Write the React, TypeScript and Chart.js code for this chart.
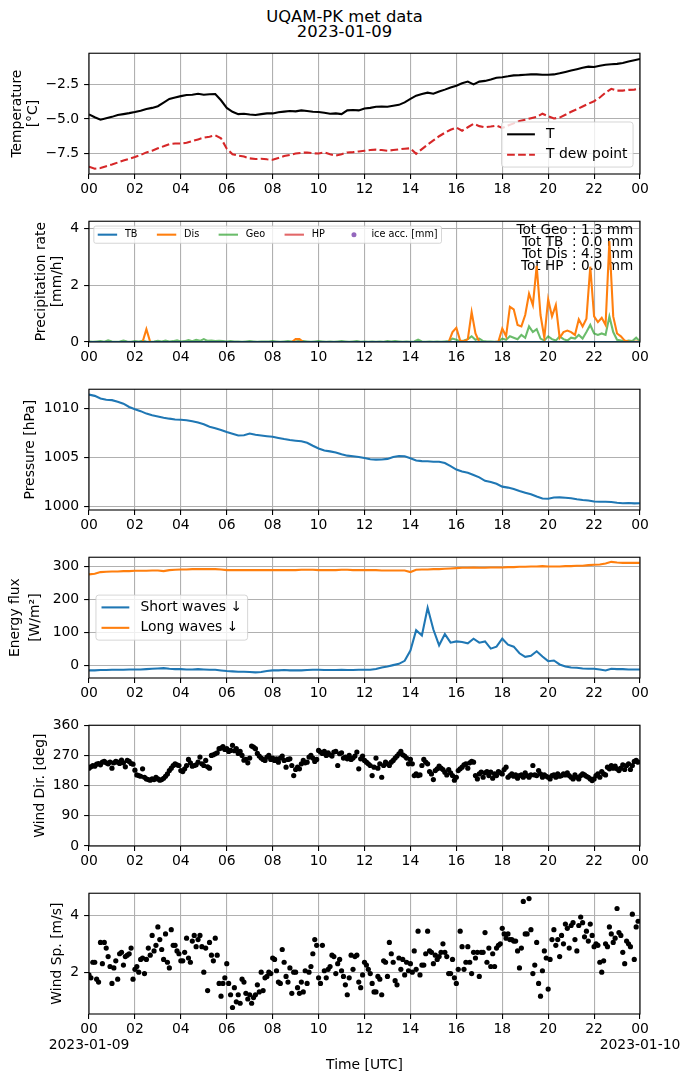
import React, { useEffect, useRef } from "react";
import { Chart, registerables } from "chart.js";

Chart.register(...registerables);

const FONT = "'DejaVu Sans', 'Liberation Sans', sans-serif";
const FS = 13.9;

// ---------------- text ----------------
const FIG_TITLE = "UQAM-PK met data";
const FIG_DATE = "2023-01-09";
const DATE_START = "2023-01-09";
const DATE_END = "2023-01-10";
const X_TITLE = "Time [UTC]";
const PRECIP_TOTALS = ["Tot Geo : 1.3 mm", "Tot TB  : 0.0 mm", "Tot Dis : 4.3 mm", "Tot HP  : 0.0 mm"];

// ---------------- time axes (hours since 00 UTC) ----------------
const HOURS_15MIN = Array.from({ length: 97 }, (_, i) => i / 4);
const HOURS_10MIN = Array.from({ length: 145 }, (_, i) => i / 6);
const HOURS_5MIN = Array.from({ length: 288 }, (_, i) => i / 12);

// ---------------- temperature [°C], 15 min ----------------
const TEMP = [
  -4.67, -4.88, -5.05, -4.95, -4.85, -4.72, -4.65, -4.58, -4.5, -4.4, -4.28, -4.2,
  -4.08, -3.82, -3.55, -3.45, -3.35, -3.27, -3.25, -3.18, -3.25, -3.22, -3.2, -3.65,
  -4.2, -4.48, -4.65, -4.62, -4.68, -4.72, -4.65, -4.6, -4.6, -4.52, -4.47, -4.42,
  -4.45, -4.38, -4.42, -4.48, -4.5, -4.55, -4.62, -4.6, -4.65, -4.38, -4.35, -4.38,
  -4.25, -4.2, -4.12, -4.1, -4.12, -4.05, -3.98, -3.8, -3.55, -3.32, -3.2, -3.1,
  -3.18, -3.02, -2.88, -2.72, -2.6, -2.42, -2.3, -2.5, -2.3, -2.25, -2.15, -2.02,
  -1.98, -1.92, -1.85, -1.83, -1.8, -1.78, -1.78, -1.8, -1.8, -1.78, -1.7, -1.6,
  -1.5, -1.4, -1.3, -1.22, -1.25, -1.15, -1.08, -1.05, -1.02, -0.95, -0.85, -0.75,
  -0.66,
];
const DEW_POINT = [
  -8.45, -8.6, -8.55, -8.42, -8.3, -8.15, -8.0, -7.88, -7.75, -7.6, -7.42, -7.3,
  -7.12, -6.98, -6.82, -6.78, -6.78, -6.72, -6.6, -6.48, -6.35, -6.28, -6.18, -6.4,
  -7.15, -7.55, -7.65, -7.72, -7.85, -7.9, -7.88, -7.92, -7.95, -7.82, -7.68, -7.6,
  -7.5, -7.45, -7.42, -7.48, -7.5, -7.42, -7.55, -7.65, -7.55, -7.42, -7.4, -7.35,
  -7.3, -7.25, -7.22, -7.25, -7.3, -7.25, -7.2, -7.15, -7.12, -7.52, -7.18, -6.85,
  -6.55, -6.25, -6.0, -5.78, -5.62, -5.85, -5.6, -5.35, -5.52, -5.6, -5.55, -5.48,
  -5.65, -5.48, -5.32, -5.15, -5.05, -4.95, -4.85, -4.62, -4.8, -4.97, -4.9, -4.7,
  -4.48, -4.3, -4.1, -3.9, -3.72, -3.45, -3.1, -2.82, -2.95, -2.95, -2.9, -2.88,
  -2.8,
];

// ---------------- precipitation rate [mm/h], 10 min ----------------
const PR_TB = [
  0, 0, 0, 0, 0, 0, 0, 0, 0, 0, 0, 0, 0, 0, 0, 0, 0, 0, 0, 0, 0, 0, 0, 0,
  0, 0, 0, 0, 0, 0, 0, 0, 0, 0, 0, 0, 0, 0, 0, 0, 0, 0, 0, 0, 0, 0, 0, 0,
  0, 0, 0, 0, 0, 0, 0, 0, 0, 0, 0, 0, 0, 0, 0, 0, 0, 0, 0, 0, 0, 0, 0, 0,
  0, 0, 0, 0, 0, 0, 0, 0, 0, 0, 0, 0, 0, 0, 0, 0, 0, 0, 0, 0, 0, 0, 0, 0,
  0, 0, 0, 0, 0, 0, 0, 0, 0, 0, 0, 0, 0, 0, 0, 0, 0, 0, 0, 0, 0, 0, 0, 0,
  0, 0, 0, 0, 0, 0, 0, 0, 0, 0, 0, 0, 0, 0, 0, 0, 0, 0, 0, 0, 0, 0, 0, 0,
  0,
];
const PR_DIS = [
  0, 0, 0, 0, 0, 0, 0, 0, 0, 0, 0, 0, 0, 0, 0, 0.45, 0, 0, 0, 0, 0, 0, 0, 0,
  0, 0, 0, 0, 0, 0, 0, 0, 0, 0, 0, 0, 0, 0, 0, 0, 0, 0, 0, 0, 0, 0, 0, 0,
  0, 0, 0, 0, 0, 0, 0.1, 0.1, 0, 0, 0, 0, 0, 0, 0, 0, 0, 0, 0, 0, 0, 0, 0, 0,
  0, 0, 0, 0, 0, 0, 0, 0, 0, 0, 0, 0, 0, 0, 0, 0, 0, 0, 0, 0, 0, 0, 0, 0.35,
  0.5, 0.05, 0.02, 0.1, 1.05, 0.3, 0, 0, 0, 0, 0, 0.02, 0.47, 0.2, 1.24, 1.15, 0.6, 0.55, 0.95, 1.7, 1.3, 2.68, 0.95, 0.15,
  1.5, 0.9, 1.3, 0.15, 0.35, 0.4, 0.35, 0.25, 0.8, 0.55, 0.82, 2.65, 0.9, 0.7, 0.85, 0.6, 3.55, 0.9, 0.3, 0.2, 0.05, 0.02, 0, 0.02,
  0,
];
const PR_GEO = [
  0.02, 0.01, 0.02, 0.03, 0.01, 0.06, 0.02, 0.01, 0.02, 0.05, 0.02, 0.01, 0.03, 0.02, 0.04, 0.02, 0.01, 0.02, 0.04, 0.02, 0.05, 0.02, 0.03, 0.06,
  0.02, 0.03, 0.07, 0.03, 0.08, 0.04, 0.1, 0.04, 0.05, 0.03, 0.04, 0.03, 0.02, 0.03, 0.02, 0.02, 0.01, 0.02, 0.03, 0.02, 0.01, 0.02, 0.02, 0.02,
  0.03, 0.02, 0.01, 0.02, 0.03, 0.02, 0.02, 0.04, 0.03, 0.02, 0.01, 0.02, 0.03, 0.02, 0.01, 0.02, 0.01, 0.02, 0.03, 0.02, 0.01, 0.02, 0.03, 0.01,
  0.02, 0.01, 0.02, 0.01, 0.02, 0.01, 0.03, 0.02, 0.03, 0.02, 0.01, 0.02, 0.01, 0.02, 0.08, 0.02, 0.01, 0.02, 0.01, 0.02, 0.01, 0.02, 0.03, 0.12,
  0.08, 0.02, 0.05, 0.1, 0.2, 0.08, 0.12, 0.03, 0.02, 0.02, 0.01, 0.02, 0.12, 0.08, 0.2, 0.15, 0.1, 0.25, 0.15, 0.55, 0.35, 0.45, 0.12, 0.05,
  0.2, 0.1, 0.05, 0.2, 0.1, 0.05, 0.15, 0.12, 0.25, 0.12, 0.35, 0.6, 0.3, 0.25, 0.3, 0.25, 0.9, 0.35, 0.08, 0.05, 0.02, 0.05, 0.03, 0.15,
  0.02,
];
const PR_HP = [
  0, 0, 0, 0, 0, 0, 0, 0, 0, 0, 0, 0, 0, 0, 0, 0, 0, 0, 0, 0, 0, 0, 0, 0,
  0, 0, 0, 0, 0, 0, 0, 0, 0, 0, 0, 0, 0, 0, 0, 0, 0, 0, 0, 0, 0, 0, 0, 0,
  0, 0, 0, 0, 0, 0, 0, 0, 0, 0, 0, 0, 0, 0, 0, 0, 0, 0, 0, 0, 0, 0, 0, 0,
  0, 0, 0, 0, 0, 0, 0, 0, 0, 0, 0, 0, 0, 0, 0, 0, 0, 0, 0, 0, 0, 0, 0, 0,
  0, 0, 0, 0, 0, 0, 0, 0, 0, 0, 0, 0, 0, 0, 0, 0, 0, 0, 0, 0, 0, 0, 0, 0,
  0, 0, 0, 0, 0, 0, 0, 0, 0, 0, 0, 0, 0, 0, 0, 0, 0, 0, 0, 0, 0, 0, 0, 0,
  0,
];
const ICE_ACC: number[] = [];

// ---------------- pressure [hPa], 15 min ----------------
const PRESSURE = [
  1011.45, 1011.32, 1011.05, 1010.92, 1010.88, 1010.72, 1010.52, 1010.18, 1009.95, 1009.75, 1009.5, 1009.32,
  1009.2, 1009.08, 1008.98, 1008.9, 1008.86, 1008.82, 1008.72, 1008.58, 1008.4, 1008.15, 1008.0, 1007.82,
  1007.6, 1007.42, 1007.25, 1007.28, 1007.45, 1007.32, 1007.25, 1007.18, 1007.12, 1007.0, 1006.88, 1006.78,
  1006.72, 1006.65, 1006.5, 1006.2, 1005.92, 1005.7, 1005.62, 1005.5, 1005.32, 1005.18, 1005.12, 1005.05,
  1004.93, 1004.82, 1004.77, 1004.78, 1004.85, 1005.05, 1005.15, 1005.12, 1004.92, 1004.68, 1004.62, 1004.6,
  1004.55, 1004.56, 1004.42, 1004.1, 1003.75, 1003.55, 1003.42, 1003.2, 1002.95, 1002.6, 1002.48, 1002.3,
  1002.0, 1001.9, 1001.75, 1001.55, 1001.38, 1001.22, 1000.98, 1000.78, 1000.76, 1000.88, 1000.9, 1000.85,
  1000.8, 1000.7, 1000.62, 1000.58, 1000.48, 1000.45, 1000.45, 1000.42, 1000.35, 1000.3, 1000.32, 1000.28,
  1000.3,
];

// ---------------- energy flux [W/m2], 15 min ----------------
const SHORT_WAVES = [
  -14, -14, -13, -13, -12, -12, -12, -11, -11, -11, -10, -9,
  -8, -7, -9, -10, -10, -11, -11, -10, -11, -12, -12, -14,
  -16, -17, -18, -18, -19, -20, -19, -16, -14, -14, -13, -14,
  -14, -14, -13, -12, -12, -13, -13, -13, -12, -13, -13, -12,
  -12, -12, -10, -5, -2, 2, 6, 15, 46, 108, 92, 176,
  110, 62, 96, 70, 74, 72, 68, 82, 70, 74, 52, 58,
  82, 64, 58, 38, 27, 30, 44, 28, 14, 16, 4, -2,
  -5, -6, -8, -9, -9, -11, -14, -9, -10, -10, -11, -11,
  -11,
];
const LONG_WAVES = [
  277, 279, 284, 285, 286, 286, 287, 287, 288, 288, 288, 289,
  289, 287, 290, 291, 292, 292, 293, 293, 293, 293, 293, 292,
  290, 290, 290, 290, 290, 290, 290, 290, 290, 290, 290, 290,
  290, 291, 291, 291, 290, 290, 290, 290, 291, 291, 290, 290,
  290, 290, 290, 289, 289, 289, 289, 289, 284, 291, 292, 292,
  293, 293, 294, 295, 296, 297, 297, 298, 297, 297, 298, 298,
  298, 299, 299, 300, 300, 301, 301, 302, 301, 301, 301, 302,
  302, 303, 303, 305, 306, 307, 310, 315, 313, 312, 312, 312,
  312,
];

// ---------------- wind direction [deg], 5 min ----------------
const WIND_DIR = [
  232, 236, 240, 238, 244, 246, 242, 250, 252, 248, 245, 250,
  232, 248, 252, 250, 246, 256, 248, 236, 255, 252, 246, 244,
  226, 212, 210, 208, 230, 205, 200, 198, 196, 200, 198, 205,
  200, 196, 198, 202, 208, 215, 225, 232, 240, 245, 242, 240,
  225, 222, 230, 240, 258, 248, 238, 240, 242, 250, 265, 245,
  240, 255, 236, 232, 270, 272, 275, 278, 290, 292, 296, 288,
  290, 282, 285, 300, 284, 290, 276, 282, 270, 256, 258, 248,
  262, 298, 295, 290, 276, 268, 262, 258, 255, 265, 270, 258,
  262, 255, 260, 250, 262, 268, 255, 235, 258, 260, 240, 210,
  228, 235, 230, 245, 255, 248, 250, 265, 270, 262, 252, 258,
  285, 280, 276, 282, 270, 278, 272, 268, 280, 282, 240, 275,
  278, 262, 265, 260, 270, 258, 262, 268, 280, 230, 260, 268,
  255, 250, 245, 240, 210, 235, 262, 232, 245, 205, 240, 250,
  245, 240, 250, 255, 262, 268, 275, 282, 272, 268, 262, 245,
  258, 245, 210, 215, 210, 212, 240, 258, 250, 245, 222, 215,
  198, 225, 230, 238, 232, 228, 220, 212, 228, 218, 210, 196,
  205, 225, 230, 235, 242, 245, 232, 248, 252, 250, 210, 200,
  215, 220, 205, 218, 222, 210, 220, 202, 215, 210, 222, 218,
  215, 228, 235, 205, 210, 215, 208, 212, 202, 210, 212, 205,
  218, 210, 205, 212, 240, 212, 210, 225, 215, 205, 212, 208,
  205, 200, 210, 212, 205, 215, 208, 210, 215, 212, 218, 210,
  205, 200, 212, 205, 200, 210, 215, 212, 208, 205, 200, 195,
  200, 210, 215, 205, 222, 215, 212, 235, 230, 240, 232, 238,
  230, 225, 232, 242, 228, 240, 245, 228, 240, 252, 255, 250,
];

// ---------------- wind speed [m/s], 5 min ----------------
const WIND_SPEED = [
  1.9, 1.8, 2.35, 2.35, 1.75, 1.65, 3.05, 2.3, 3.05, 2.85, 2.55, 2.2,
  1.6, 2.15, 2.4, 1.75, 2.65, 2.7, 2.25, 2.55, 2.6, 2.65, 2.85, 1.75,
  2.1, 2.2, 2.0, 2.45, 2.5, 1.95, 2.45, 2.85, 2.6, 3.3, 2.75, 2.95,
  3.6, 3.15, 2.8, 2.45, 3.35, 2.35, 2.15, 3.5, 2.95, 2.95, 2.75, 2.65,
  2.4, 2.4, 2.7, 3.2, 2.5, 2.35, 3.1, 3.3, 2.9, 3.15, 3.3, 2.9,
  2.0, 2.85, 1.35, 3.05, 2.6, 2.4, 3.2, 2.6, 1.6, 1.15, 1.6, 1.8,
  2.3, 1.6, 1.2, 0.75, 1.45, 0.95, 1.2, 0.9, 1.75, 1.65, 1.25, 1.05,
  1.2, 0.9, 1.1, 1.2, 1.55, 1.3, 2.0, 1.35, 1.8, 1.85, 2.0, 1.95,
  2.5, 2.45, 2.05, 1.65, 1.6, 2.8, 2.35, 1.85, 1.65, 2.15, 1.25, 2.0,
  2.0, 1.45, 1.25, 1.65, 1.3, 2.05, 1.6, 2.0, 2.2, 2.65, 3.15, 2.95,
  1.8, 1.6, 2.95, 2.05, 1.8, 2.1, 2.2, 2.6, 2.55, 1.95, 2.3, 2.45,
  2.05, 1.85, 1.55, 1.2, 1.8, 2.6, 2.1, 2.55, 2.6, 1.65, 1.45, 1.9,
  2.35, 2.25, 2.1, 1.95, 1.6, 1.3, 1.3, 1.85, 1.75, 1.2, 2.4, 2.35,
  1.85, 3.05, 2.65, 2.35, 1.7, 1.55, 2.5, 2.1, 2.45, 1.9, 2.35, 2.05,
  2.3, 2.0, 2.75, 2.1, 3.45, 1.9, 2.25, 2.25, 2.65, 3.45, 2.75, 2.7,
  2.3, 2.6, 2.45, 2.55, 2.7, 3.0, 2.7, 2.55, 1.95, 1.95, 2.45, 1.8,
  1.6, 2.1, 3.45, 2.9, 2.1, 2.35, 2.9, 2.35, 1.95, 2.7, 2.5, 2.7,
  1.85, 2.7, 2.7, 3.4, 2.35, 2.85, 2.2, 2.65, 2.2, 2.85, 2.95, 3.0,
  3.55, 3.35, 3.2, 3.35, 3.15, 3.15, 3.1, 3.1, 2.75, 2.15, 2.85, 4.5,
  3.35, 3.35, 4.6, 3.5, 1.95, 2.25, 3.05, 1.6, 1.15, 2.05, 2.75, 2.5,
  1.4, 2.45, 3.15, 3.5, 2.95, 3.15, 2.55, 3.3, 3.0, 3.7, 3.55, 2.85,
  3.65, 3.75, 3.15, 2.75, 3.65, 3.95, 3.75, 3.25, 3.45, 3.1, 3.7, 3.3,
  2.9, 3.0, 2.95, 2.35, 2.0, 2.4, 3.0, 2.9, 3.6, 3.35, 3.05, 3.2,
  4.25, 3.4, 3.3, 2.7, 2.3, 3.1, 3.0, 2.9, 4.05, 2.45, 3.6, 3.8,
];

// ---------------- styling constants ----------------
const C_BLUE = "#1f77b4";
const C_ORANGE = "#ff7f0e";
const C_GREEN = "rgba(44,160,44,0.7)";
const C_RED = "#d62728";
const C_RED_A = "rgba(214,39,40,0.7)";
const C_PURPLE = "#9467bd";
const GRID = "#b0b0b0";
const LW = 2.08;
const DASH = [7.7, 3.3];

const PAD_TOP = 10;
const AX_LEFT = 89;
const PAD_RIGHT = 49;
const AX_H = 124;
const FIG_W = 689;

const pts = (xs: number[], ys: number[]) => ys.map((y, i) => ({ x: xs[i], y }));

type LegendItem = { label: string; color: string; dash?: number[]; dot?: boolean };
type LegendSpec = { loc: string; fs: number; ncol: number; items: LegendItem[] };
type NoteSpec = { lines: string[]; fs: number; dx: number; dy: number; spacing: number };

function drawLegend(ctx: CanvasRenderingContext2D, ca: any, lg: LegendSpec) {
  const fs = lg.fs;
  ctx.font = `${fs}px ${FONT}`;
  const bp = 0.4 * fs, hl = 2 * fs, htp = 0.8 * fs, ls = 0.5 * fs, cs = 2 * fs, ap = 0.5 * fs, rowH = 0.97 * fs;
  const n = lg.items.length;
  const nrow = Math.ceil(n / lg.ncol);
  const ncolUsed = Math.ceil(n / nrow);
  const colW: number[] = [];
  for (let c = 0; c < ncolUsed; c++) colW.push(0);
  lg.items.forEach((it, i) => {
    const c = Math.floor(i / nrow);
    colW[c] = Math.max(colW[c], hl + htp + ctx.measureText(it.label).width);
  });
  const W = 2 * bp + colW.reduce((a, b) => a + b, 0) + cs * (ncolUsed - 1);
  const H = 2 * bp + nrow * rowH + (nrow - 1) * ls;
  let x0 = ca.left + ap;
  let y0 = ca.top + ap;
  if (lg.loc === "lower right") {
    x0 = ca.right - ap - W;
    y0 = ca.bottom - ap - H;
  } else if (lg.loc === "center left") {
    y0 = (ca.top + ca.bottom) / 2 - H / 2;
  }
  const r = 0.2 * fs;
  ctx.beginPath();
  ctx.moveTo(x0 + r, y0);
  ctx.lineTo(x0 + W - r, y0);
  ctx.quadraticCurveTo(x0 + W, y0, x0 + W, y0 + r);
  ctx.lineTo(x0 + W, y0 + H - r);
  ctx.quadraticCurveTo(x0 + W, y0 + H, x0 + W - r, y0 + H);
  ctx.lineTo(x0 + r, y0 + H);
  ctx.quadraticCurveTo(x0, y0 + H, x0, y0 + H - r);
  ctx.lineTo(x0, y0 + r);
  ctx.quadraticCurveTo(x0, y0, x0 + r, y0);
  ctx.closePath();
  ctx.fillStyle = "rgba(255,255,255,0.8)";
  ctx.fill();
  ctx.strokeStyle = "rgba(204,204,204,0.8)";
  ctx.lineWidth = 1;
  ctx.setLineDash([]);
  ctx.stroke();

  let cx = x0 + bp;
  for (let c = 0; c < ncolUsed; c++) {
    for (let rr = 0; rr < nrow; rr++) {
      const it = lg.items[c * nrow + rr];
      if (!it) continue;
      const cy = y0 + bp + rr * (rowH + ls) + rowH / 2;
      if (it.dot) {
        ctx.fillStyle = it.color;
        ctx.beginPath();
        ctx.arc(cx + hl / 2, cy, 2.5, 0, Math.PI * 2);
        ctx.fill();
      } else {
        ctx.strokeStyle = it.color;
        ctx.lineWidth = LW;
        ctx.setLineDash(it.dash || []);
        ctx.beginPath();
        ctx.moveTo(cx, cy);
        ctx.lineTo(cx + hl, cy);
        ctx.stroke();
        ctx.setLineDash([]);
      }
      ctx.fillStyle = "#000";
      ctx.textAlign = "left";
      ctx.textBaseline = "middle";
      ctx.fillText(it.label, cx + hl + htp, cy);
    }
    cx += colW[c] + cs;
  }
}

function makeDecor(legend?: LegendSpec, note?: NoteSpec) {
  return {
    id: "mplDecor",
    beforeDatasetsDraw(chart: any) {
      if (!note) return;
      const ctx: CanvasRenderingContext2D = chart.ctx;
      const ca = chart.chartArea;
      ctx.save();
      ctx.font = `${note.fs}px ${FONT}`;
      ctx.fillStyle = "#000";
      ctx.textAlign = "right";
      ctx.textBaseline = "alphabetic";
      note.lines.forEach((l, i) => ctx.fillText(l, ca.right - note.dx, ca.top + note.dy + i * note.spacing));
      ctx.restore();
    },
    afterDatasetsDraw(chart: any) {
      const ctx: CanvasRenderingContext2D = chart.ctx;
      const ca = chart.chartArea;
      ctx.save();
      ctx.strokeStyle = "#000";
      ctx.lineWidth = 1.1;
      ctx.setLineDash([]);
      ctx.strokeRect(ca.left, ca.top, ca.right - ca.left, ca.bottom - ca.top);
      if (legend) drawLegend(ctx, ca, legend);
      ctx.restore();
    },
  };
}

const hourLabel = (v: number) => String(Math.round(v) % 24).padStart(2, "0");

function xAxis(last: boolean) {
  return {
    type: "linear",
    min: 0,
    max: 24,
    ticks: {
      stepSize: 2,
      autoSkip: false,
      maxRotation: 0,
      minRotation: 0,
      color: "#000",
      font: { family: FONT, size: FS, lineHeight: last ? 1.13 : 1.2 },
      padding: last ? 2.7 : 2.2,
      callback: (v: any) => {
        const n = Number(v);
        if (last && n === 0) return ["00", DATE_START];
        if (last && n === 24) return ["00", DATE_END];
        return hourLabel(n);
      },
    },
    grid: { color: GRID, lineWidth: 1.1, tickColor: "#000", tickLength: 4.9, tickWidth: 1.1, drawTicks: true },
    border: { display: false },
    title: last
      ? { display: true, text: X_TITLE, color: "#000", font: { family: FONT, size: FS, lineHeight: 1.2 }, padding: { top: 0, bottom: 0 } }
      : { display: false },
    afterFit: (s: any) => {
      s.height = last ? 60 : 30;
    },
  };
}

function yAxis(min: number, max: number, step: number, title: string | string[], titleLH: number, titlePad: number, fmt: (v: number) => string) {
  return {
    type: "linear",
    min,
    max,
    ticks: {
      stepSize: step,
      includeBounds: false,
      autoSkip: false,
      color: "#000",
      font: { family: FONT, size: FS },
      padding: 4.9,
      callback: (v: any) => fmt(Number(v)),
    },
    grid: { color: GRID, lineWidth: 1.1, tickColor: "#000", tickLength: 4.9, tickWidth: 1.1, drawTicks: true },
    border: { display: false },
    title: {
      display: true,
      text: title,
      color: "#000",
      font: { family: FONT, size: FS, lineHeight: titleLH / FS },
      padding: { top: titlePad, bottom: 0 },
    },
    afterFit: (s: any) => {
      s.width = AX_LEFT;
    },
  };
}

const fmtMinus1 = (v: number) => v.toFixed(1).replace("-", "\u2212");
const fmtInt = (v: number) => String(Math.round(v)).replace("-", "\u2212");

type PanelSpec = {
  top: number;
  last: boolean;
  type: string;
  datasets: any[];
  y: any;
  legend?: LegendSpec;
  note?: NoteSpec;
};

const lineDs = (label: string, xs: number[], ys: number[], color: string, dash?: number[]) => ({
  label,
  data: pts(xs, ys),
  borderColor: color,
  backgroundColor: color,
  borderWidth: LW,
  borderDash: dash || [],
  pointRadius: 0,
  tension: 0,
  fill: false,
});

const dotDs = (label: string, xs: number[], ys: number[], color: string) => ({
  type: "scatter",
  label,
  data: pts(xs, ys),
  backgroundColor: color,
  borderColor: color,
  borderWidth: 0,
  pointRadius: 2.6,
  showLine: false,
});

const PANELS: PanelSpec[] = [
  {
    top: 50,
    last: false,
    type: "line",
    datasets: [lineDs("T", HOURS_15MIN, TEMP, "#000"), lineDs("T dew point", HOURS_15MIN, DEW_POINT, C_RED, DASH)],
    y: yAxis(-8.98, -0.25, 2.5, ["Temperature", "[°C]"], 16, 9, fmtMinus1),
    legend: {
      loc: "lower right",
      fs: FS,
      ncol: 1,
      items: [
        { label: "T", color: "#000" },
        { label: "T dew point", color: C_RED, dash: DASH },
      ],
    },
  },
  {
    top: 218,
    last: false,
    type: "line",
    datasets: [
      lineDs("TB", HOURS_10MIN, PR_TB, C_BLUE),
      lineDs("Dis", HOURS_10MIN, PR_DIS, C_ORANGE),
      lineDs("Geo", HOURS_10MIN, PR_GEO, C_GREEN),
      lineDs("HP", HOURS_10MIN, PR_HP, C_RED_A),
      dotDs("ice acc. [mm]", HOURS_10MIN, ICE_ACC, C_PURPLE),
    ],
    y: yAxis(0, 4.25, 2, ["Precipitation rate", "[mm/h]"], 16, 33, fmtInt),
    legend: {
      loc: "upper left",
      fs: 9.7,
      ncol: 5,
      items: [
        { label: "TB", color: C_BLUE },
        { label: "Dis", color: C_ORANGE },
        { label: "Geo", color: C_GREEN },
        { label: "HP", color: C_RED_A },
        { label: "ice acc. [mm]", color: C_PURPLE, dot: true },
      ],
    },
    note: { lines: PRECIP_TOTALS, fs: 13.6, dx: 6.7, dy: 13, spacing: 11.9 },
  },
  {
    top: 386,
    last: false,
    type: "line",
    datasets: [lineDs("Pressure", HOURS_15MIN, PRESSURE, C_BLUE)],
    y: yAxis(999.6, 1012.0, 5, "Pressure [hPa]", 16, 22, fmtInt),
  },
  {
    top: 554,
    last: false,
    type: "line",
    datasets: [lineDs("Short waves \u2193", HOURS_15MIN, SHORT_WAVES, C_BLUE), lineDs("Long waves \u2193", HOURS_15MIN, LONG_WAVES, C_ORANGE)],
    y: yAxis(-37, 329, 100, ["Energy flux", "[W/m\u00b2]"], 20, 5, fmtInt),
    legend: {
      loc: "center left",
      fs: FS,
      ncol: 1,
      items: [
        { label: "Short waves \u2193", color: C_BLUE },
        { label: "Long waves \u2193", color: C_ORANGE },
      ],
    },
  },
  {
    top: 722,
    last: false,
    type: "scatter",
    datasets: [dotDs("Wind Dir.", HOURS_5MIN, WIND_DIR, "#000")],
    y: yAxis(0, 360, 90, "Wind Dir. [deg]", 16, 32, fmtInt),
  },
  {
    top: 890,
    last: true,
    type: "scatter",
    datasets: [dotDs("Wind Sp.", HOURS_5MIN, WIND_SPEED, "#000")],
    y: yAxis(0.52, 4.79, 2, "Wind Sp. [m/s]", 16, 49, fmtInt),
  },
];

function canvasHeight(p: PanelSpec) {
  return PAD_TOP + AX_H + (p.last ? 60 : 30);
}

function Panel({ spec }: { spec: PanelSpec }) {
  const ref = useRef<HTMLCanvasElement | null>(null);
  useEffect(() => {
    if (!ref.current) return;
    const chart = new Chart(ref.current, {
      type: spec.type as any,
      data: { datasets: spec.datasets },
      options: {
        responsive: false,
        maintainAspectRatio: false,
        animation: false,
        events: [],
        layout: { padding: { left: 0, right: PAD_RIGHT, top: PAD_TOP, bottom: 0 } },
        plugins: { legend: { display: false }, tooltip: { enabled: false }, title: { display: false } },
        elements: { point: { radius: 0 }, line: { tension: 0 } },
        scales: { x: xAxis(spec.last) as any, y: spec.y },
      },
      plugins: [makeDecor(spec.legend, spec.note)],
    } as any);
    return () => chart.destroy();
  }, []);
  const h = canvasHeight(spec);
  return (
    <canvas
      ref={ref}
      width={FIG_W}
      height={h}
      style={{ position: "absolute", left: 0, top: spec.top - PAD_TOP, width: FIG_W, height: h }}
    />
  );
}

export default function App() {
  return (
    <div style={{ position: "absolute", left: 0, top: 0, width: FIG_W, height: 1083, background: "#fff", fontFamily: FONT }}>
      <div
        style={{
          position: "absolute",
          left: 0,
          top: 9,
          width: FIG_W,
          textAlign: "center",
          fontSize: 16.4,
          lineHeight: "15.3px",
          color: "#000",
          fontFamily: FONT,
        }}
      >
        <div>{FIG_TITLE}</div>
        <div>{FIG_DATE}</div>
      </div>
      {PANELS.map((p, i) => (
        <Panel key={i} spec={p} />
      ))}
    </div>
  );
}
